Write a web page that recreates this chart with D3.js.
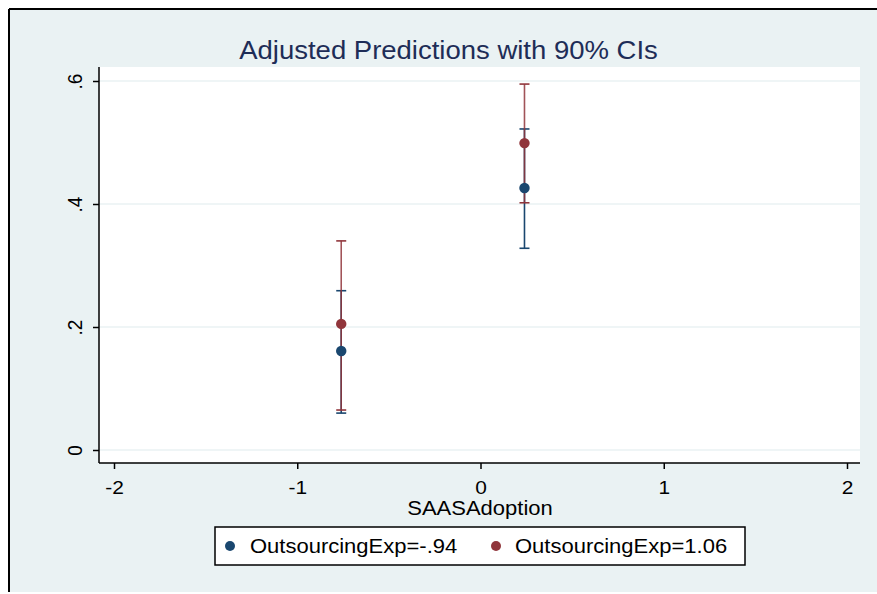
<!DOCTYPE html>
<html>
<head>
<meta charset="utf-8">
<script src="https://cdn.jsdelivr.net/npm/d3@7"></script>
<style>
  body { margin: 0; background: #ffffff; }
  text { font-family: "Liberation Sans", Arial, sans-serif; }
</style>
</head>
<body>
<div id="chart"></div>
<script>
// Chart data
var seriesNames = ["OutsourcingExp=-.94", "OutsourcingExp=1.06"];
var xValues = [-0.76, 0.24];                 // SAASAdoption
var estimates = [[0.161, 0.426], [0.205, 0.499]];
var lowerCI = [[0.060, 0.328], [0.065, 0.402]];
var upperCI = [[0.259, 0.522], [0.340, 0.595]];
var xTicks = [-2, -1, 0, 1, 2];
var yTicks = [0, 0.2, 0.4, 0.6];
var yTickLabels = ["0", ".2", ".4", ".6"];

var colors = ["#1a476f", "#90353b"];
var W = 877, H = 594;
var stretch = 1.1; // the Stata export renders its fonts a bit wide

var svg = d3.select("#chart").append("svg")
    .attr("width", W)
    .attr("height", H);

// Helper for horizontally stretched text
function addText(x, y, txt, size, anchor, color) {
    return svg.append("text")
        .attr("transform", "translate(" + x + "," + y + ") scale(" + stretch + ",1)")
        .attr("text-anchor", anchor || "start")
        .style("font-size", size + "px")
        .attr("fill", color || "#000")
        .text(txt);
}

// Outer graph region (Stata style light blue-grey)
svg.append("rect")
    .attr("x", 9).attr("y", 9)
    .attr("width", W - 9).attr("height", 583)
    .attr("fill", "#eaf2f3");
svg.append("line")
    .attr("x1", 9).attr("x2", W).attr("y1", 9).attr("y2", 9)
    .attr("stroke", "#000").attr("stroke-width", 2);
svg.append("line")
    .attr("x1", 9).attr("x2", 9).attr("y1", 9).attr("y2", 592)
    .attr("stroke", "#000").attr("stroke-width", 2);

// Scales
var x = d3.scaleLinear().domain([-2, 2]).range([114, 847]);
var y = d3.scaleLinear().domain([0, 0.6]).range([450, 81]);

// Plot region
var plotLeft = 99, plotRight = 860, plotTop = 67, plotBottom = 463;
svg.append("rect")
    .attr("x", plotLeft).attr("y", plotTop)
    .attr("width", plotRight - plotLeft).attr("height", plotBottom - plotTop)
    .attr("fill", "#ffffff");

// Grid lines
svg.append("g").selectAll("line")
    .data(yTicks)
    .enter().append("line")
    .attr("x1", plotLeft).attr("x2", plotRight)
    .attr("y1", function (d) { return y(d); })
    .attr("y2", function (d) { return y(d); })
    .attr("stroke", "#eaf2f3")
    .attr("stroke-width", 1.5);

// Title
addText(448.5, 59, "Adjusted Predictions with 90% CIs", 25, "middle", "#1e2d57");

// Y axis
var yAxis = d3.axisLeft(y)
    .tickValues(yTicks)
    .tickFormat(function (d, i) { return yTickLabels[i]; })
    .tickSize(6)
    .tickSizeOuter(0);
var gy = svg.append("g")
    .attr("transform", "translate(" + plotLeft + ",0)")
    .call(yAxis);
gy.select(".domain").attr("d", "M0," + plotTop + "V" + plotBottom)
    .attr("stroke", "#000").attr("stroke-width", 1.5);
gy.selectAll(".tick line").attr("stroke", "#000").attr("stroke-width", 1.5);
gy.selectAll(".tick text")
    .attr("transform", "rotate(-90) scale(1," + stretch + ")")
    .attr("x", 0)
    .attr("y", -15.5)
    .attr("dy", 0)
    .attr("text-anchor", "middle")
    .style("font-size", "19px")
    .attr("fill", "#000");

// X axis
var xAxis = d3.axisBottom(x)
    .tickValues(xTicks)
    .tickFormat(function (d) { return String(d); })
    .tickSize(6)
    .tickSizeOuter(0);
var gx = svg.append("g")
    .attr("transform", "translate(0," + plotBottom + ")")
    .call(xAxis);
gx.select(".domain").attr("d", "M" + plotLeft + ",0H" + plotRight)
    .attr("stroke", "#000").attr("stroke-width", 1.5);
gx.selectAll(".tick line").attr("stroke", "#000").attr("stroke-width", 1.5);
gx.selectAll(".tick text")
    .attr("transform", "scale(" + stretch + ",1)")
    .attr("y", 31)
    .attr("dy", 0)
    .style("font-size", "19px")
    .attr("fill", "#000");

// X axis title
addText(480, 515, "SAASAdoption", 20, "middle");

// Error bars and points, blue first so red sits on top
var capHalf = 5;
seriesNames.forEach(function (name, s) {
    var g = svg.append("g");
    xValues.forEach(function (xv, i) {
        var cx = x(xv);
        g.append("line")
            .attr("x1", cx).attr("x2", cx)
            .attr("y1", y(lowerCI[s][i])).attr("y2", y(upperCI[s][i]))
            .attr("stroke", colors[s]).attr("stroke-width", 1.6)
            .attr("stroke-opacity", s === 1 ? 0.85 : 1);
        [lowerCI[s][i], upperCI[s][i]].forEach(function (v) {
            g.append("line")
                .attr("x1", cx - capHalf).attr("x2", cx + capHalf)
                .attr("y1", y(v)).attr("y2", y(v))
                .attr("stroke", colors[s]).attr("stroke-width", 1.6);
        });
    });
});
seriesNames.forEach(function (name, s) {
    svg.append("g").selectAll("circle")
        .data(xValues)
        .enter().append("circle")
        .attr("cx", function (d) { return x(d); })
        .attr("cy", function (d, i) { return y(estimates[s][i]); })
        .attr("r", 5.2)
        .attr("fill", colors[s]);
});

// Legend
svg.append("rect")
    .attr("x", 215).attr("y", 527)
    .attr("width", 530).attr("height", 38)
    .attr("fill", "#ffffff")
    .attr("stroke", "#000").attr("stroke-width", 1.5);
var legendDotX = [230, 496];
var legendTextX = [250, 515];
seriesNames.forEach(function (name, s) {
    svg.append("circle")
        .attr("cx", legendDotX[s]).attr("cy", 546)
        .attr("r", 5)
        .attr("fill", colors[s]);
    addText(legendTextX[s], 553, name, 20, "start");
});
</script>
</body>
</html>
